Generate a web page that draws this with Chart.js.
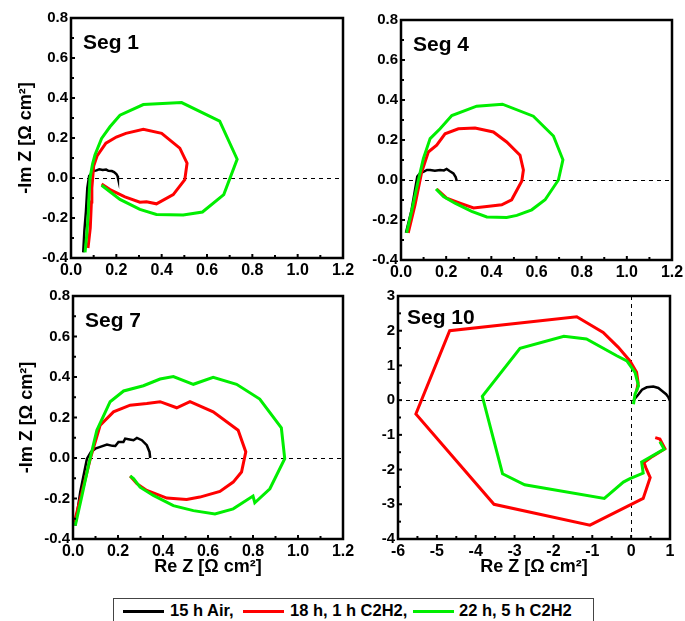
<!DOCTYPE html>
<html lang="en">
<head>
<meta charset="UTF-8">
<title>Nyquist segments</title>
<script src="https://cdn.jsdelivr.net/npm/chart.js"></script>
<style>
    * { margin: 0; padding: 0; box-sizing: border-box; }
    body { background: #fff; font-family: Arial, "Liberation Sans", sans-serif; }
    #page { position: relative; width: 685px; height: 621px; overflow: hidden; background: #fff; }
    canvas { position: absolute; }
    .legend {
        position: absolute; left: 113px; top: 598px; width: 481px; height: 32px;
        border: 1px solid #444; background: #fff;
    }
    .legend .ln { position: absolute; top: 11px; height: 3px; width: 41px; }
    .legend .tx { position: absolute; top: 2px; font-weight: bold; font-size: 16.5px; color: #000; white-space: nowrap; }
</style>
</head>
<body>
<div id="page">
    <canvas id="seg1"></canvas>
    <canvas id="seg4"></canvas>
    <canvas id="seg7"></canvas>
    <canvas id="seg10"></canvas>
    <div class="legend">
        <div class="ln" style="left:9px;background:#000"></div>
        <div class="tx" style="left:56px">15 h Air,</div>
        <div class="ln" style="left:129px;background:#ff0000"></div>
        <div class="tx" style="left:176px">18 h, 1 h C2H2,</div>
        <div class="ln" style="left:299px;background:#00ee00"></div>
        <div class="tx" style="left:345px">22 h, 5 h C2H2</div>
    </div>
</div>
<script>
// series names (legend)
const seriesNames = ['15 h Air', '18 h, 1 h C2H2', '22 h, 5 h C2H2'];
const seriesColors = ['#000000', '#ff0000', '#00ee00'];

// tick labels
const smallTicks = [-0.4, -0.2, 0.0, 0.2, 0.4, 0.6, 0.8];
const smallXTicks = [0.0, 0.2, 0.4, 0.6, 0.8, 1.0, 1.2];
const seg10XTicks = [-6, -5, -4, -3, -2, -1, 0, 1];
const seg10YTicks = [-4, -3, -2, -1, 0, 1, 2, 3];

// Seg 1  [Re Z, -Im Z]
const seg1Air = [[0.054,-0.372],[0.059,-0.264],[0.066,-0.165],[0.072,-0.05],[0.08,0.01],[0.091,0.025],[0.1,0.035],[0.113,0.038],[0.125,0.044],[0.14,0.04],[0.155,0.042],[0.165,0.036],[0.18,0.035],[0.19,0.03],[0.2,0.02],[0.205,0.01],[0.207,0.0]];
const seg1H18 = [[0.075,-0.35],[0.085,-0.25],[0.09,-0.12],[0.092,-0.05],[0.1,0.06],[0.115,0.11],[0.154,0.174],[0.2,0.205],[0.242,0.223],[0.319,0.243],[0.4,0.223],[0.48,0.149],[0.512,0.074],[0.502,-0.008],[0.451,-0.083],[0.377,-0.129],[0.333,-0.119],[0.304,-0.121],[0.238,-0.094],[0.172,-0.058],[0.135,-0.03]];
const seg1H22 = [[0.062,-0.372],[0.07,-0.28],[0.076,-0.18],[0.08,-0.08],[0.084,0.0],[0.095,0.07],[0.106,0.116],[0.135,0.198],[0.172,0.256],[0.216,0.314],[0.319,0.367],[0.488,0.377],[0.656,0.284],[0.733,0.094],[0.674,-0.083],[0.58,-0.17],[0.495,-0.185],[0.377,-0.182],[0.304,-0.157],[0.216,-0.107],[0.135,-0.036]];

// Seg 4
const seg4Air = [[0.022,-0.264],[0.047,-0.149],[0.072,0.017],[0.085,0.035],[0.099,0.041],[0.115,0.05],[0.129,0.05],[0.15,0.046],[0.173,0.05],[0.19,0.048],[0.202,0.055],[0.215,0.045],[0.232,0.033],[0.242,0.015],[0.247,-0.005]];
const seg4H18 = [[0.032,-0.264],[0.062,-0.124],[0.092,0.041],[0.121,0.14],[0.158,0.174],[0.195,0.231],[0.254,0.256],[0.328,0.26],[0.409,0.24],[0.468,0.19],[0.527,0.124],[0.542,0.05],[0.535,-0.005],[0.49,-0.099],[0.446,-0.124],[0.38,-0.132],[0.321,-0.14],[0.261,-0.116],[0.202,-0.091],[0.158,-0.045]];
const seg4H22 = [[0.025,-0.264],[0.047,-0.157],[0.077,0.0],[0.099,0.107],[0.129,0.207],[0.173,0.256],[0.225,0.322],[0.335,0.369],[0.449,0.379],[0.586,0.319],[0.675,0.22],[0.717,0.101],[0.697,0.0],[0.638,-0.099],[0.579,-0.149],[0.513,-0.177],[0.468,-0.187],[0.38,-0.185],[0.313,-0.157],[0.239,-0.116],[0.188,-0.083],[0.155,-0.045]];

// Seg 7
const seg7Air = [[0.01,-0.334],[0.032,-0.169],[0.062,-0.003],[0.08,0.03],[0.099,0.046],[0.121,0.055],[0.151,0.066],[0.175,0.06],[0.188,0.059],[0.202,0.079],[0.224,0.079],[0.232,0.096],[0.246,0.093],[0.269,0.088],[0.284,0.099],[0.306,0.088],[0.328,0.063],[0.34,0.03],[0.343,0.0]];
const seg7H18 = [[0.006,-0.317],[0.04,-0.169],[0.077,-0.003],[0.121,0.162],[0.18,0.228],[0.254,0.261],[0.328,0.269],[0.387,0.278],[0.461,0.248],[0.52,0.278],[0.623,0.228],[0.734,0.137],[0.768,0.03],[0.749,-0.069],[0.712,-0.119],[0.653,-0.165],[0.564,-0.193],[0.505,-0.205],[0.417,-0.198],[0.328,-0.16],[0.284,-0.127],[0.254,-0.089]];
const seg7H22 = [[0.01,-0.334],[0.04,-0.185],[0.069,-0.036],[0.106,0.137],[0.165,0.278],[0.225,0.331],[0.313,0.357],[0.387,0.39],[0.446,0.402],[0.535,0.364],[0.623,0.398],[0.727,0.364],[0.83,0.291],[0.926,0.149],[0.941,-0.003],[0.875,-0.152],[0.808,-0.221],[0.8,-0.188],[0.712,-0.251],[0.631,-0.276],[0.535,-0.26],[0.446,-0.235],[0.357,-0.185],[0.298,-0.144],[0.269,-0.102],[0.254,-0.089]];

// Seg 10
const seg10Air = [[0.06,-0.02],[0.1,0.05],[0.19,0.17],[0.28,0.3],[0.4,0.37],[0.57,0.39],[0.7,0.35],[0.79,0.27],[0.9,0.17],[0.96,0.08],[1.0,-0.02]];
const seg10H18 = [[0.62,-1.08],[0.74,-1.12],[0.87,-1.40],[0.55,-1.62],[0.33,-1.80],[0.38,-1.95],[0.49,-2.23],[0.31,-2.83],[-1.06,-3.60],[-3.53,-3.0],[-5.54,-0.40],[-4.67,2.0],[-1.40,2.40],[-0.72,1.95],[-0.33,1.52],[-0.03,1.13],[0.14,0.8],[0.18,0.5],[0.14,0.25]];
const seg10H22 = [[0.74,-1.2],[0.85,-1.41],[0.27,-1.78],[0.31,-2.1],[-0.03,-2.26],[-0.2,-2.36],[-0.69,-2.83],[-2.74,-2.44],[-3.31,-2.12],[-3.83,0.11],[-2.86,1.49],[-1.73,1.84],[-1.15,1.76],[-0.37,1.28],[-0.11,1.13],[0.1,0.8],[0.19,0.41],[0.1,0.17],[0.06,-0.12]];

const FONT = 'Arial, "Liberation Sans", sans-serif';
const AX = 75, PT = 20, PR = 16, XB = 50;

// frame, inward ticks, dashed zero lines and panel label
const framePlugin = {
    id: 'frame',
    beforeDatasetsDraw(chart, args, opts) {
        const {ctx, chartArea: a, scales: {x, y}} = chart;
        ctx.save();
        ctx.strokeStyle = '#000';
        ctx.lineWidth = 1;
        ctx.setLineDash([4, 4]);
        const y0 = Math.round(y.getPixelForValue(0)) + 0.5;
        ctx.beginPath(); ctx.moveTo(a.left, y0); ctx.lineTo(a.right, y0); ctx.stroke();
        if (opts.vZero) {
            const x0 = Math.round(x.getPixelForValue(0)) + 0.5;
            ctx.beginPath(); ctx.moveTo(x0, a.top); ctx.lineTo(x0, a.bottom); ctx.stroke();
        }
        ctx.restore();
    },
    afterDraw(chart, args, opts) {
        const {ctx, chartArea: a, scales: {x, y}} = chart;
        ctx.save();
        ctx.strokeStyle = '#000';
        ctx.lineWidth = 2;
        const tick = (vals, len) => {
            vals.forEach(v => {
                const px = x.getPixelForValue(v);
                ctx.beginPath(); ctx.moveTo(px, a.bottom); ctx.lineTo(px, a.bottom - len); ctx.stroke();
            });
        };
        const xs = x.ticks.map(t => t.value);
        const ys = y.ticks.map(t => t.value);
        tick(xs, 4);
        tick(xs.slice(1).map((v, i) => (v + xs[i]) / 2), 3);
        const ytick = (vals, len) => {
            vals.forEach(v => {
                const py = y.getPixelForValue(v);
                ctx.beginPath(); ctx.moveTo(a.left, py); ctx.lineTo(a.left + len, py); ctx.stroke();
            });
        };
        ytick(ys, 4);
        ytick(ys.slice(1).map((v, i) => (v + ys[i]) / 2), 3);
        ctx.lineWidth = 2.5;
        ctx.strokeRect(a.left, a.top, a.right - a.left, a.bottom - a.top);
        ctx.fillStyle = '#000';
        ctx.font = 'bold 21px ' + FONT;
        ctx.textBaseline = 'middle';
        ctx.fillText(opts.label, a.left + opts.dx, a.top + opts.dy);
        ctx.restore();
    }
};

function makeDatasets(air, h18, h22) {
    return [air, h18, h22].map((pts, i) => ({
        label: seriesNames[i],
        data: pts.map(p => ({x: p[0], y: p[1]})),
        showLine: true,
        borderColor: seriesColors[i],
        backgroundColor: seriesColors[i],
        borderWidth: i === 0 ? 2.5 : 3,
        pointRadius: 0,
        order: 2 - i
    }));
}

function makePanel(id, box, cfg) {
    const cv = document.getElementById(id);
    const w = box.r - box.l + AX + PR;
    const h = box.b - box.t + PT + XB;
    cv.width = w; cv.height = h;
    cv.style.left = (box.l - AX) + 'px';
    cv.style.top = (box.t - PT) + 'px';
    const fmt = cfg.decimals ? (v => Number(v).toFixed(cfg.decimals)) : (v => String(v));
    new Chart(cv.getContext('2d'), {
        type: 'scatter',
        data: {datasets: cfg.datasets},
        options: {
            responsive: false,
            animation: false,
            events: [],
            layout: {padding: {left: 0, top: PT, right: PR, bottom: 0}},
            plugins: {
                legend: {display: false},
                tooltip: {enabled: false},
                frame: {label: cfg.label, vZero: !!cfg.vZero, dx: cfg.dx || 12, dy: cfg.dy || 25}
            },
            scales: {
                x: {
                    type: 'linear',
                    min: cfg.xTicks[0], max: cfg.xTicks[cfg.xTicks.length - 1],
                    afterBuildTicks: s => { s.ticks = cfg.xTicks.map(v => ({value: v})); },
                    afterFit: s => { s.height = XB; },
                    grid: {display: false, drawTicks: false},
                    border: {display: false},
                    ticks: {color: '#000', padding: 3, font: {family: FONT, size: 16, weight: 'bold'},
                        maxRotation: 0, autoSkip: false, callback: v => fmt(v)},
                    title: {display: !!cfg.xTitle, text: 'Re Z [Ω cm²]', color: '#000',
                        font: {family: FONT, size: 18, weight: 'bold'}, padding: {top: 0, bottom: 11}}
                },
                y: {
                    type: 'linear',
                    min: cfg.yTicks[0], max: cfg.yTicks[cfg.yTicks.length - 1],
                    afterBuildTicks: s => { s.ticks = cfg.yTicks.map(v => ({value: v})); },
                    afterFit: s => { s.width = AX; },
                    grid: {display: false, drawTicks: false},
                    border: {display: false},
                    ticks: {color: '#000', padding: 3, font: {family: FONT, size: 15, weight: 'bold'},
                        autoSkip: false, callback: v => fmt(v)},
                    title: {display: !!cfg.yTitle, text: '-Im Z [Ω cm²]', color: '#000',
                        font: {family: FONT, size: 18, weight: 'bold'}, padding: {top: cfg.yTitlePad || 20, bottom: 0}}
                }
            }
        },
        plugins: [framePlugin]
    });
}

makePanel('seg1', {l: 71, t: 18, r: 343, b: 258}, {
    label: 'Seg 1', datasets: makeDatasets(seg1Air, seg1H18, seg1H22),
    xTicks: smallXTicks, yTicks: smallTicks, decimals: 1, yTitle: true, yTitlePad: 19
});
makePanel('seg4', {l: 401, t: 20, r: 672, b: 260}, {
    label: 'Seg 4', datasets: makeDatasets(seg4Air, seg4H18, seg4H22),
    xTicks: smallXTicks, yTicks: smallTicks, decimals: 1
});
makePanel('seg7', {l: 73, t: 296, r: 343, b: 539}, {
    label: 'Seg 7', datasets: makeDatasets(seg7Air, seg7H18, seg7H22),
    xTicks: smallXTicks, yTicks: smallTicks, decimals: 1, yTitle: true, yTitlePad: 18, xTitle: true
});
makePanel('seg10', {l: 398, t: 296, r: 670, b: 539}, {
    label: 'Seg 10', datasets: makeDatasets(seg10Air, seg10H18, seg10H22),
    xTicks: seg10XTicks, yTicks: seg10YTicks, decimals: 0, xTitle: true, vZero: true, dx: 9, dy: 22
});
</script>
</body>
</html>
